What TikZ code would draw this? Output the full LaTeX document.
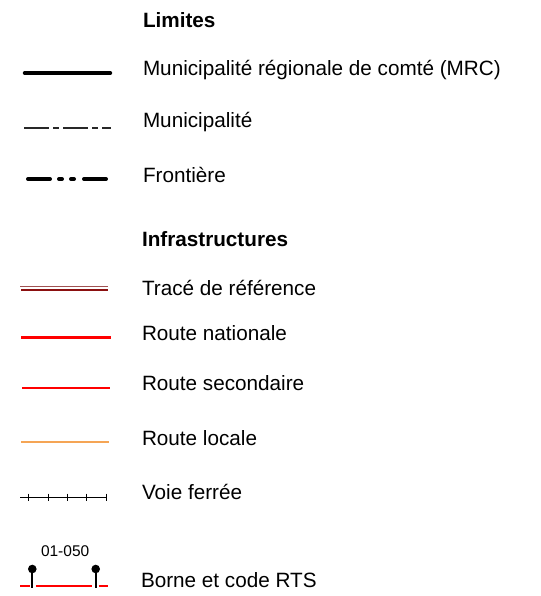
\documentclass[tikz,border=0pt]{standalone}
\usepackage{fontspec}
\setmainfont{Liberation Sans}
\definecolor{refA}{RGB}{160,82,82}
\definecolor{refB}{RGB}{139,16,16}
\definecolor{munigray}{RGB}{40,40,40}
\definecolor{localorange}{RGB}{245,165,85}
\definecolor{roadred}{RGB}{255,0,0}
\begin{document}
\begin{tikzpicture}[x=1pt,y=-1pt,
  lbl/.style={anchor=base west,inner sep=0pt,outer sep=0pt,font=\fontsize{20.7}{24}\selectfont},
  hdr/.style={lbl,font=\fontsize{20.7}{24}\selectfont\bfseries},
  small/.style={anchor=base west,inner sep=0pt,outer sep=0pt,font=\fontsize{15.5}{18}\selectfont}]
\useasboundingbox (0,0) rectangle (540,596);
% texts
\node[hdr] (limites) at (143,27.5) {Limites};
\node[lbl] (mrc) at (143,75.5) {Municipalité régionale de comté (MRC)};
\node[lbl] (muni) at (143,128) {Municipalité};
\node[lbl] (front) at (143,182.3) {Frontière};
\node[hdr] (infra) at (142,246) {Infrastructures};
\node[lbl] (trace) at (142,295) {Tracé de référence};
\node[lbl] (rnat) at (142,340) {Route nationale};
\node[lbl] (rsec) at (142,390) {Route secondaire};
\node[lbl] (rloc) at (142,445) {Route locale};
\node[lbl] (voie) at (142,499.3) {Voie ferrée};
\node[lbl] (borne) at (141,587.7) {Borne et code RTS};
\node[small] (code) at (41,556) {01-050};
% MRC
\draw[line width=3.4pt,line cap=round] (24.5,73) -- (110.5,73);
% Municipalite
\draw[line width=1.2pt,munigray,dash pattern=on 25pt off 4pt on 6pt off 4pt] (24,128) -- (111,128);
% Frontiere
\begin{scope}[line width=4pt,line cap=round]
\draw (28,179) -- (50,179);
\draw (59,179) -- (62,179);
\draw (71,179) -- (74,179);
\draw (84,179) -- (106,179);
\end{scope}
% Trace de reference
\draw[refA,line width=1.4pt] (20,286.5) -- (108,286.5);
\draw[refB,line width=1.5pt] (21,290) -- (108,290);
% Route nationale
\draw[roadred,line width=3.4pt] (21,337.3) -- (111,337.3);
% Route secondaire
\draw[roadred,line width=1.3pt] (22,388) -- (110,388);
% Route locale
\draw[localorange,line width=2pt] (21,442) -- (109,442);
% Voie ferree
\draw[line width=1pt] (20,497) -- (107,497);
\foreach \tx in {28,48,67,86,106} \draw[line width=1pt] (\tx,493.5) -- (\tx,500.5);
% Borne
\draw[roadred,line width=2.2pt] (20,586) -- (29.5,586);
\draw[roadred,line width=2.2pt] (36,586) -- (92,586);
\draw[roadred,line width=2.2pt] (98.5,586) -- (107.5,586);
\draw[line width=1.8pt] (32.3,569) -- (32.3,587.5);
\draw[line width=1.8pt] (95.7,569) -- (95.7,587.5);
\fill (32.3,569) circle (4.3pt);
\fill (95.7,569) circle (4.3pt);
\end{tikzpicture}
\end{document}
